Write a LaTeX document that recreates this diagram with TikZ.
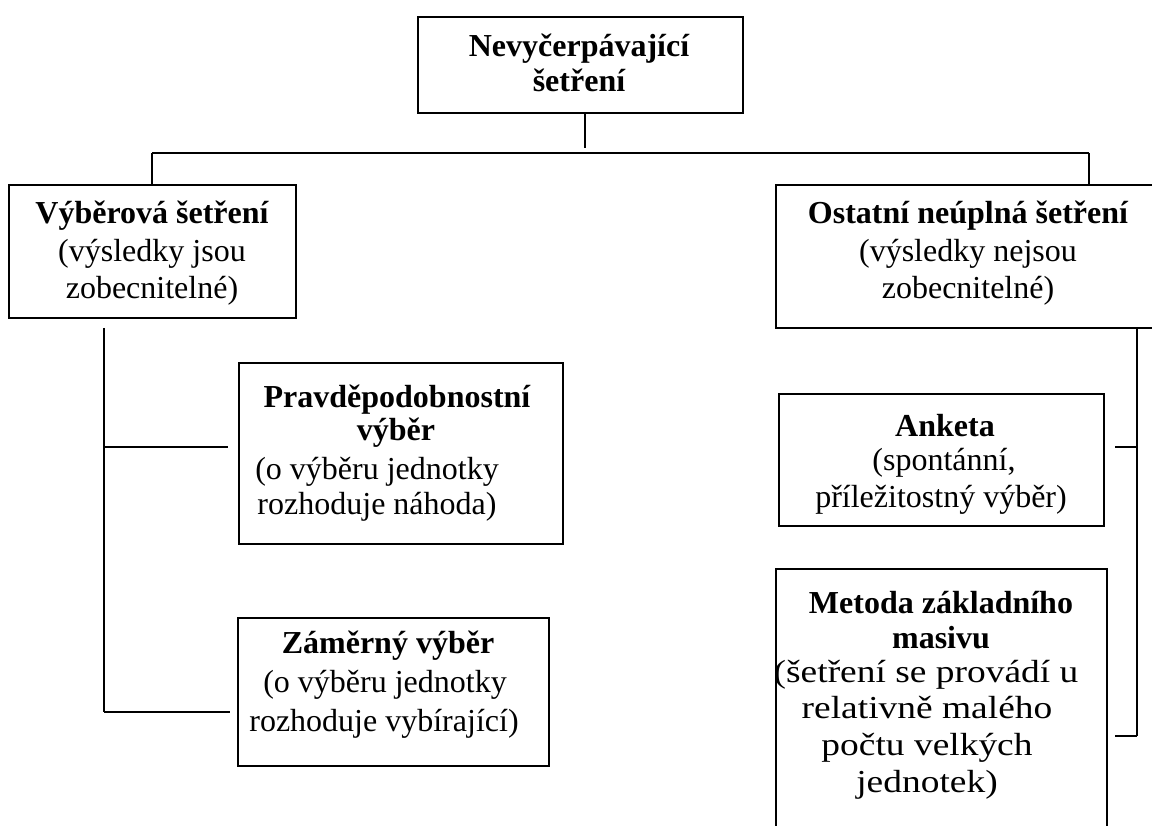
\documentclass[tikz,border=0pt]{standalone}
\usepackage{fontspec}
\usepackage{graphicx}
\setmainfont{Liberation Serif}
\begin{document}
\begin{tikzpicture}[x=1pt,y=-1pt,
  box/.style={draw, line width=1.8pt, inner sep=0pt, anchor=north west},
  ln/.style={line width=1.8pt},
  tx/.style={inner sep=0pt, anchor=base, font=\fontsize{32}{36}\selectfont},
  bt/.style={inner sep=0pt, anchor=base, font=\fontsize{32}{36}\selectfont\bfseries}]
\useasboundingbox (0,0) rectangle (1152,826);
\clip (0,0) rectangle (1152,826);
\fill[white] (0,0) rectangle (1152,826);

% boxes
\node[box, minimum width=325pt, minimum height=96pt] (top) at (417,16) {};
\node[box, minimum width=287pt, minimum height=133pt] (vyb) at (8,184) {};
\node[box, minimum width=390pt, minimum height=143pt] (ost) at (775,184) {};
\node[box, minimum width=324pt, minimum height=181pt] (prav) at (238,362) {};
\node[box, minimum width=311pt, minimum height=148pt] (zam) at (237,617) {};
\node[box, minimum width=325pt, minimum height=132pt] (ank) at (778,393) {};
\node[box, minimum width=331pt, minimum height=290pt] (met) at (775,568) {};

% texts
\node[bt] (t1) at (579,57) {Nevyčerpávající};
\node[bt] (t2) at (579,92) {šetření};
\node[bt] (v1) at (152,224) {Výběrová šetření};
\node[tx] (v2) at (152,262) {(výsledky jsou};
\node[tx] (v3) at (152,299) {zobecnitelné)};
\node[bt] (o1) at (968,224) {Ostatní neúplná šetření};
\node[tx] (o2) at (968,262) {(výsledky nejsou};
\node[tx] (o3) at (968,299) {zobecnitelné)};
\node[bt] (p1) at (397,407) {Pravděpodobnostní};
\node[bt] (p2) at (396,440) {výběr};
\node[tx] (p3) at (377,479) {(o výběru jednotky};
\node[tx] (p4) at (377,514) {rozhoduje náhoda)};
\node[bt] (z1) at (388,653) {Záměrný výběr};
\node[tx] (z2) at (385,692) {(o výběru jednotky};
\node[tx] (z3) at (384,731) {rozhoduje vybírající)};
\node[bt] (a1) at (945,436) {Anketa};
\node[tx] (a2) at (944,470) {(spontánní,};
\node[tx] (a3) at (941,507) {příležitostný výběr)};
\node[bt] (m1) at (941,613) {Metoda základního};
\node[bt] (m2) at (941,648) {masivu};
\node[tx] (m3) at (926,682) {\scalebox{1.17}[1]{(šetření se provádí u}};
\node[tx] (m4) at (927,718) {\scalebox{1.17}[1]{relativně malého}};
\node[tx] (m5) at (927,755) {\scalebox{1.17}[1]{počtu velkých}};
\node[tx] (m6) at (927,792) {\scalebox{1.17}[1]{jednotek)}};

% junction coordinates
\coordinate (jt) at (585,148);
\coordinate (hl) at (152,153);
\coordinate (hr) at (1089,153);
\coordinate (lv1) at (104,328);
\coordinate (lv2) at (104,712);
\coordinate (lb1) at (104,447);
\coordinate (rv1) at (1137,327);
\coordinate (rv2) at (1137,736);
\coordinate (rb1) at (1137,447);

% connectors
\draw[ln] (top.south -| jt) -- (jt);
\draw[ln] (hl) -- (hr);
\draw[ln] (hl) -- (vyb.north -| hl);
\draw[ln] (hr) -- (ost.north -| hr);
\draw[ln] (lv1) -- (lv2);
\draw[ln] (lb1) -- ([xshift=-10pt]prav.west |- lb1);
\draw[ln] (lv2) -- ([xshift=-7pt]zam.west |- lv2);
\draw[ln] (ost.south -| rv1) -- (rv2);
\draw[ln] (rb1) -- ([xshift=10pt]ank.east |- rb1);
\draw[ln] (rv2) -- ([xshift=7pt]met.east |- rv2);
\end{tikzpicture}
\end{document}
